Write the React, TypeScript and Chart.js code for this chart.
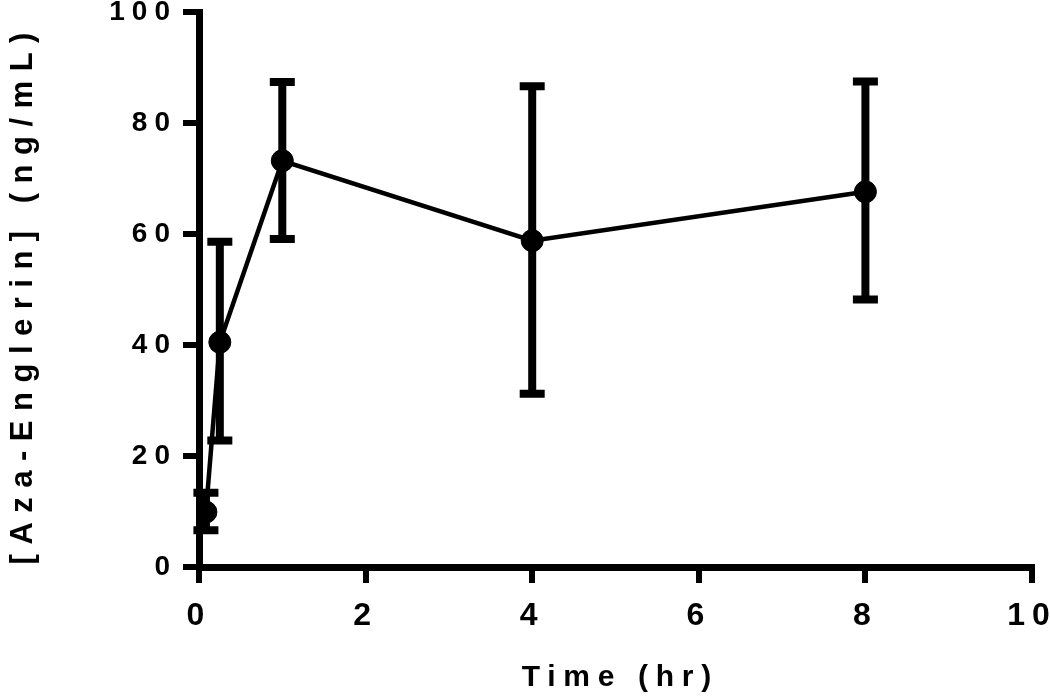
import React, { useEffect, useRef } from "react";
import { Chart, registerables } from "chart.js";

Chart.register(...registerables);

const timesHr = [0.083, 0.25, 1, 4, 8];
const meanConc = [9.9, 40.5, 73.2, 58.8, 67.6];
const lowerConc = [6.6, 22.8, 59.1, 31.2, 48.2];
const upperConc = [13.4, 58.6, 87.4, 86.6, 87.5];
const xTickValues = [0, 2, 4, 6, 8, 10];
const yTickValues = [0, 20, 40, 60, 80, 100];
const xTitle = "Time (hr)";
const yTitle = "[Aza-Englerin] (ng/mL)";

const FAMILY = "'Liberation Sans', Arial, sans-serif";

const spacingPlugin = {
  id: "letterSpacing",
  beforeUpdate(chart: any) {
    chart.ctx.letterSpacing = "7px";
  },
  beforeDraw(chart: any) {
    chart.ctx.letterSpacing = "7px";
  },
};

function drawSpaced(ctx: any, text: string, cx: number, baseY: number, spacing: number) {
  ctx.letterSpacing = spacing + "px";
  ctx.textAlign = "left";
  ctx.textBaseline = "alphabetic";
  const w = ctx.measureText(text).width - spacing;
  ctx.fillText(text, cx - w / 2, baseY);
}

const titlesPlugin = {
  id: "axisTitles",
  afterDraw(chart: any) {
    const { ctx, scales } = chart;
    const x = scales.x;
    const y = scales.y;
    ctx.save();
    ctx.fillStyle = "#000";
    ctx.font = `bold 30px ${FAMILY}`;
    // x title
    drawSpaced(ctx, xTitle, (x.left + x.right) / 2 + 1, 686, 7.7);
    // y title (rotated)
    ctx.font = `bold 31px ${FAMILY}`;
    ctx.translate(32, (y.top + y.bottom) / 2 + 9);
    ctx.rotate(-Math.PI / 2);
    drawSpaced(ctx, yTitle, 0, 0, 9.5);
    ctx.restore();
  },
};

const errorBarPlugin = {
  id: "errorBars",
  afterDatasetsDraw(chart: any) {
    const { ctx, scales } = chart;
    const x = scales.x;
    const y = scales.y;
    ctx.save();
    ctx.strokeStyle = "#000";
    ctx.lineWidth = 8;
    ctx.lineCap = "butt";
    timesHr.forEach((t, i) => {
      const px = x.getPixelForValue(t);
      const top = y.getPixelForValue(upperConc[i]);
      const bot = y.getPixelForValue(lowerConc[i]);
      ctx.beginPath();
      ctx.moveTo(px, top);
      ctx.lineTo(px, bot);
      ctx.moveTo(px - 12.5, top);
      ctx.lineTo(px + 12.5, top);
      ctx.moveTo(px - 12.5, bot);
      ctx.lineTo(px + 12.5, bot);
      ctx.stroke();
    });
    ctx.restore();
  },
};

export default function App() {
  const ref = useRef<HTMLCanvasElement>(null);
  useEffect(() => {
    document.body.style.margin = "0";
    const canvas = ref.current!;
    const gridOpts = {
      display: true,
      drawOnChartArea: false,
      drawTicks: true,
      tickLength: 16,
      tickWidth: 6,
      tickColor: "#000",
      lineWidth: 6,
      color: "#000",
    };
    const chart = new Chart(canvas, {
      type: "line",
      data: {
        datasets: [
          {
            data: timesHr.map((t, i) => ({ x: t, y: meanConc[i] })),
            borderColor: "#000",
            backgroundColor: "#000",
            borderWidth: 4.5,
            pointRadius: 11,
            pointBackgroundColor: "#000",
            pointBorderColor: "#000",
            pointBorderWidth: 1,
            tension: 0,
          },
        ],
      },
      options: {
        animation: false,
        responsive: false,
        devicePixelRatio: 1,
        layout: { padding: { top: 10, right: 18, left: 0, bottom: 0 } },
        plugins: { legend: { display: false }, tooltip: { enabled: false } },
        scales: {
          x: {
            type: "linear",
            min: 0,
            max: 10,
            afterBuildTicks: (s: any) => {
              s.ticks = xTickValues.map((v) => ({ value: v }));
            },
            afterFit: (s: any) => {
              s.height = 129;
              s.paddingLeft = 0;
              s.paddingRight = 0;
            },
            ticks: { color: "#000", font: { family: FAMILY, weight: "bold", size: 32 }, padding: 14, maxRotation: 0 },
            grid: gridOpts,
            border: { display: true, width: 7, color: "#000" },
            title: { display: false },
          },
          y: {
            type: "linear",
            min: 0,
            max: 100,
            afterBuildTicks: (s: any) => {
              s.ticks = yTickValues.map((v) => ({ value: v }));
            },
            afterFit: (s: any) => {
              s.width = 199;
              s.paddingTop = 0;
              s.paddingBottom = 0;
            },
            ticks: { color: "#000", font: { family: FAMILY, weight: "bold", size: 28 }, padding: 6 },
            grid: gridOpts,
            border: { display: true, width: 7, color: "#000" },
            title: { display: false },
          },
        },
      },
      plugins: [spacingPlugin, errorBarPlugin, titlesPlugin],
    });
    return () => chart.destroy();
  }, []);
  return (
    <div style={{ position: "absolute", left: 0, top: 0, width: 1050, height: 696 }}>
      <canvas ref={ref} width={1050} height={696} />
    </div>
  );
}
